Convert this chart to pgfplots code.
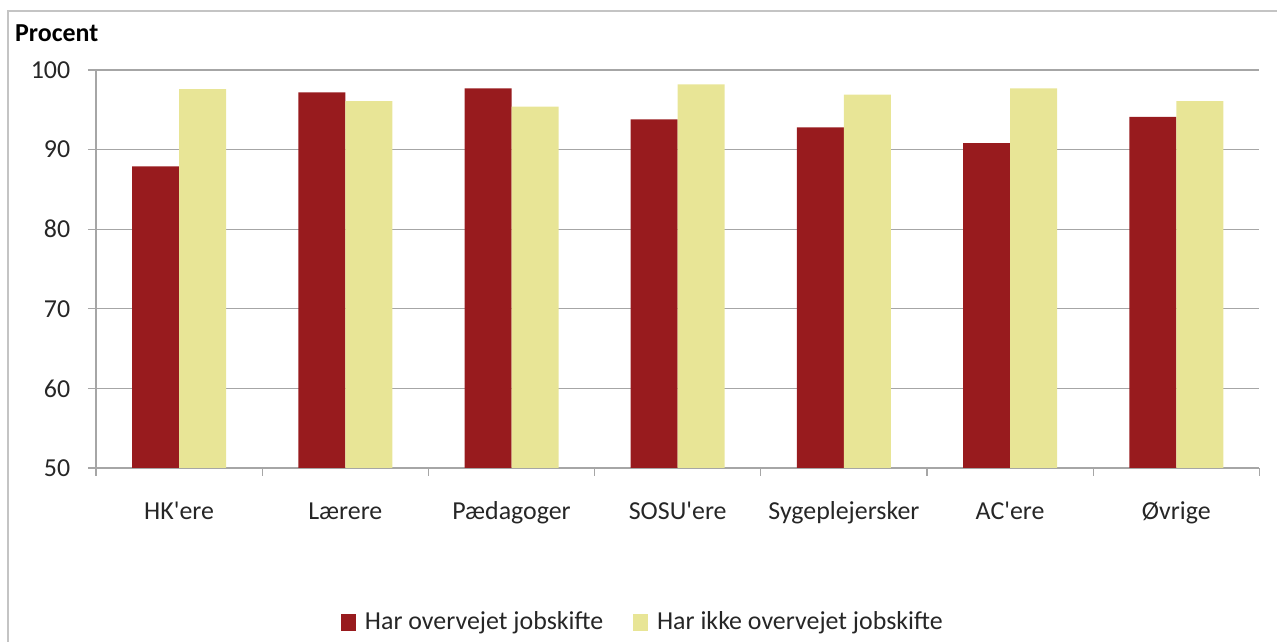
\documentclass[border=0pt]{standalone}
\usepackage{pgfplots}
\pgfplotsset{compat=1.18}
\usepackage{fontspec}
\setmainfont{Carlito}
\definecolor{myred}{HTML}{981B1E}
\definecolor{myyellow}{HTML}{E8E596}
\definecolor{gridgray}{HTML}{A6A6A6}
\definecolor{framegray}{HTML}{C4C4C4}
\begin{document}
\fontsize{26}{31}\selectfont
\begin{tikzpicture}[x=1bp,y=1bp]
\useasboundingbox (-96,-174) rectangle (1181,468);
\draw[framegray, line width=1.2bp] (-88,-180) -- (-88,457) -- (1190,457);
\node[anchor=base west, inner sep=0pt, font=\fontsize{26}{31}\selectfont\bfseries] at (-81,426) {Procent};
\begin{axis}[
  at={(0,0)}, anchor=south west,
  scale only axis, width=1163.5bp, height=398bp,
  ybar=0pt, bar width=47bp,
  xmin=-0.5, xmax=6.5, ymin=50, ymax=100,
  xtick={0,...,6},
  xticklabels={HK\textquotesingle ere, Lærere, Pædagoger, SOSU\textquotesingle ere, Sygeplejersker, AC\textquotesingle ere, Øvrige},
  minor xtick={-0.5,0.5,...,6.5},
  ytick={50,60,...,100},
  ymajorgrids,
  grid style={gridgray, line width=1.3bp},
  axis x line*=bottom, axis y line*=left,
  axis line style={gridgray, line width=1.3bp, -},
  tick align=outside,
  major tick length=8bp, minor tick length=8bp,
  major x tick style={draw=none},
  tick style={gridgray, line width=1.1bp},
  minor tick style={gridgray, line width=1.1bp},
  /pgf/number format/assume math mode=true,
  tick label style={font=\fontsize{26}{31}\selectfont, text=black!85},
  xticklabel style={anchor=base, yshift=-44bp},
  yticklabel style={xshift=-9bp},
  legend style={at={(0.470,-0.387)}, anchor=center, draw=none, fill=none,
    font=\fontsize{26}{31}\selectfont, text=black!85,
    legend columns=2,
    /tikz/every odd column/.append style={column sep=7bp},
    /tikz/every even column/.append style={column sep=28bp}},
  legend image code/.code={\fill[#1] (0bp,-9bp) rectangle (15bp,8bp);},
]
\addplot[fill=myred, draw=none] coordinates {(0,87.9) (1,97.2) (2,97.7) (3,93.8) (4,92.8) (5,90.8) (6,94.1)};
\addplot[fill=myyellow, draw=none] coordinates {(0,97.6) (1,96.1) (2,95.4) (3,98.2) (4,96.9) (5,97.7) (6,96.1)};
\legend{Har overvejet jobskifte, Har ikke overvejet jobskifte}
\end{axis}
\end{tikzpicture}
\end{document}
